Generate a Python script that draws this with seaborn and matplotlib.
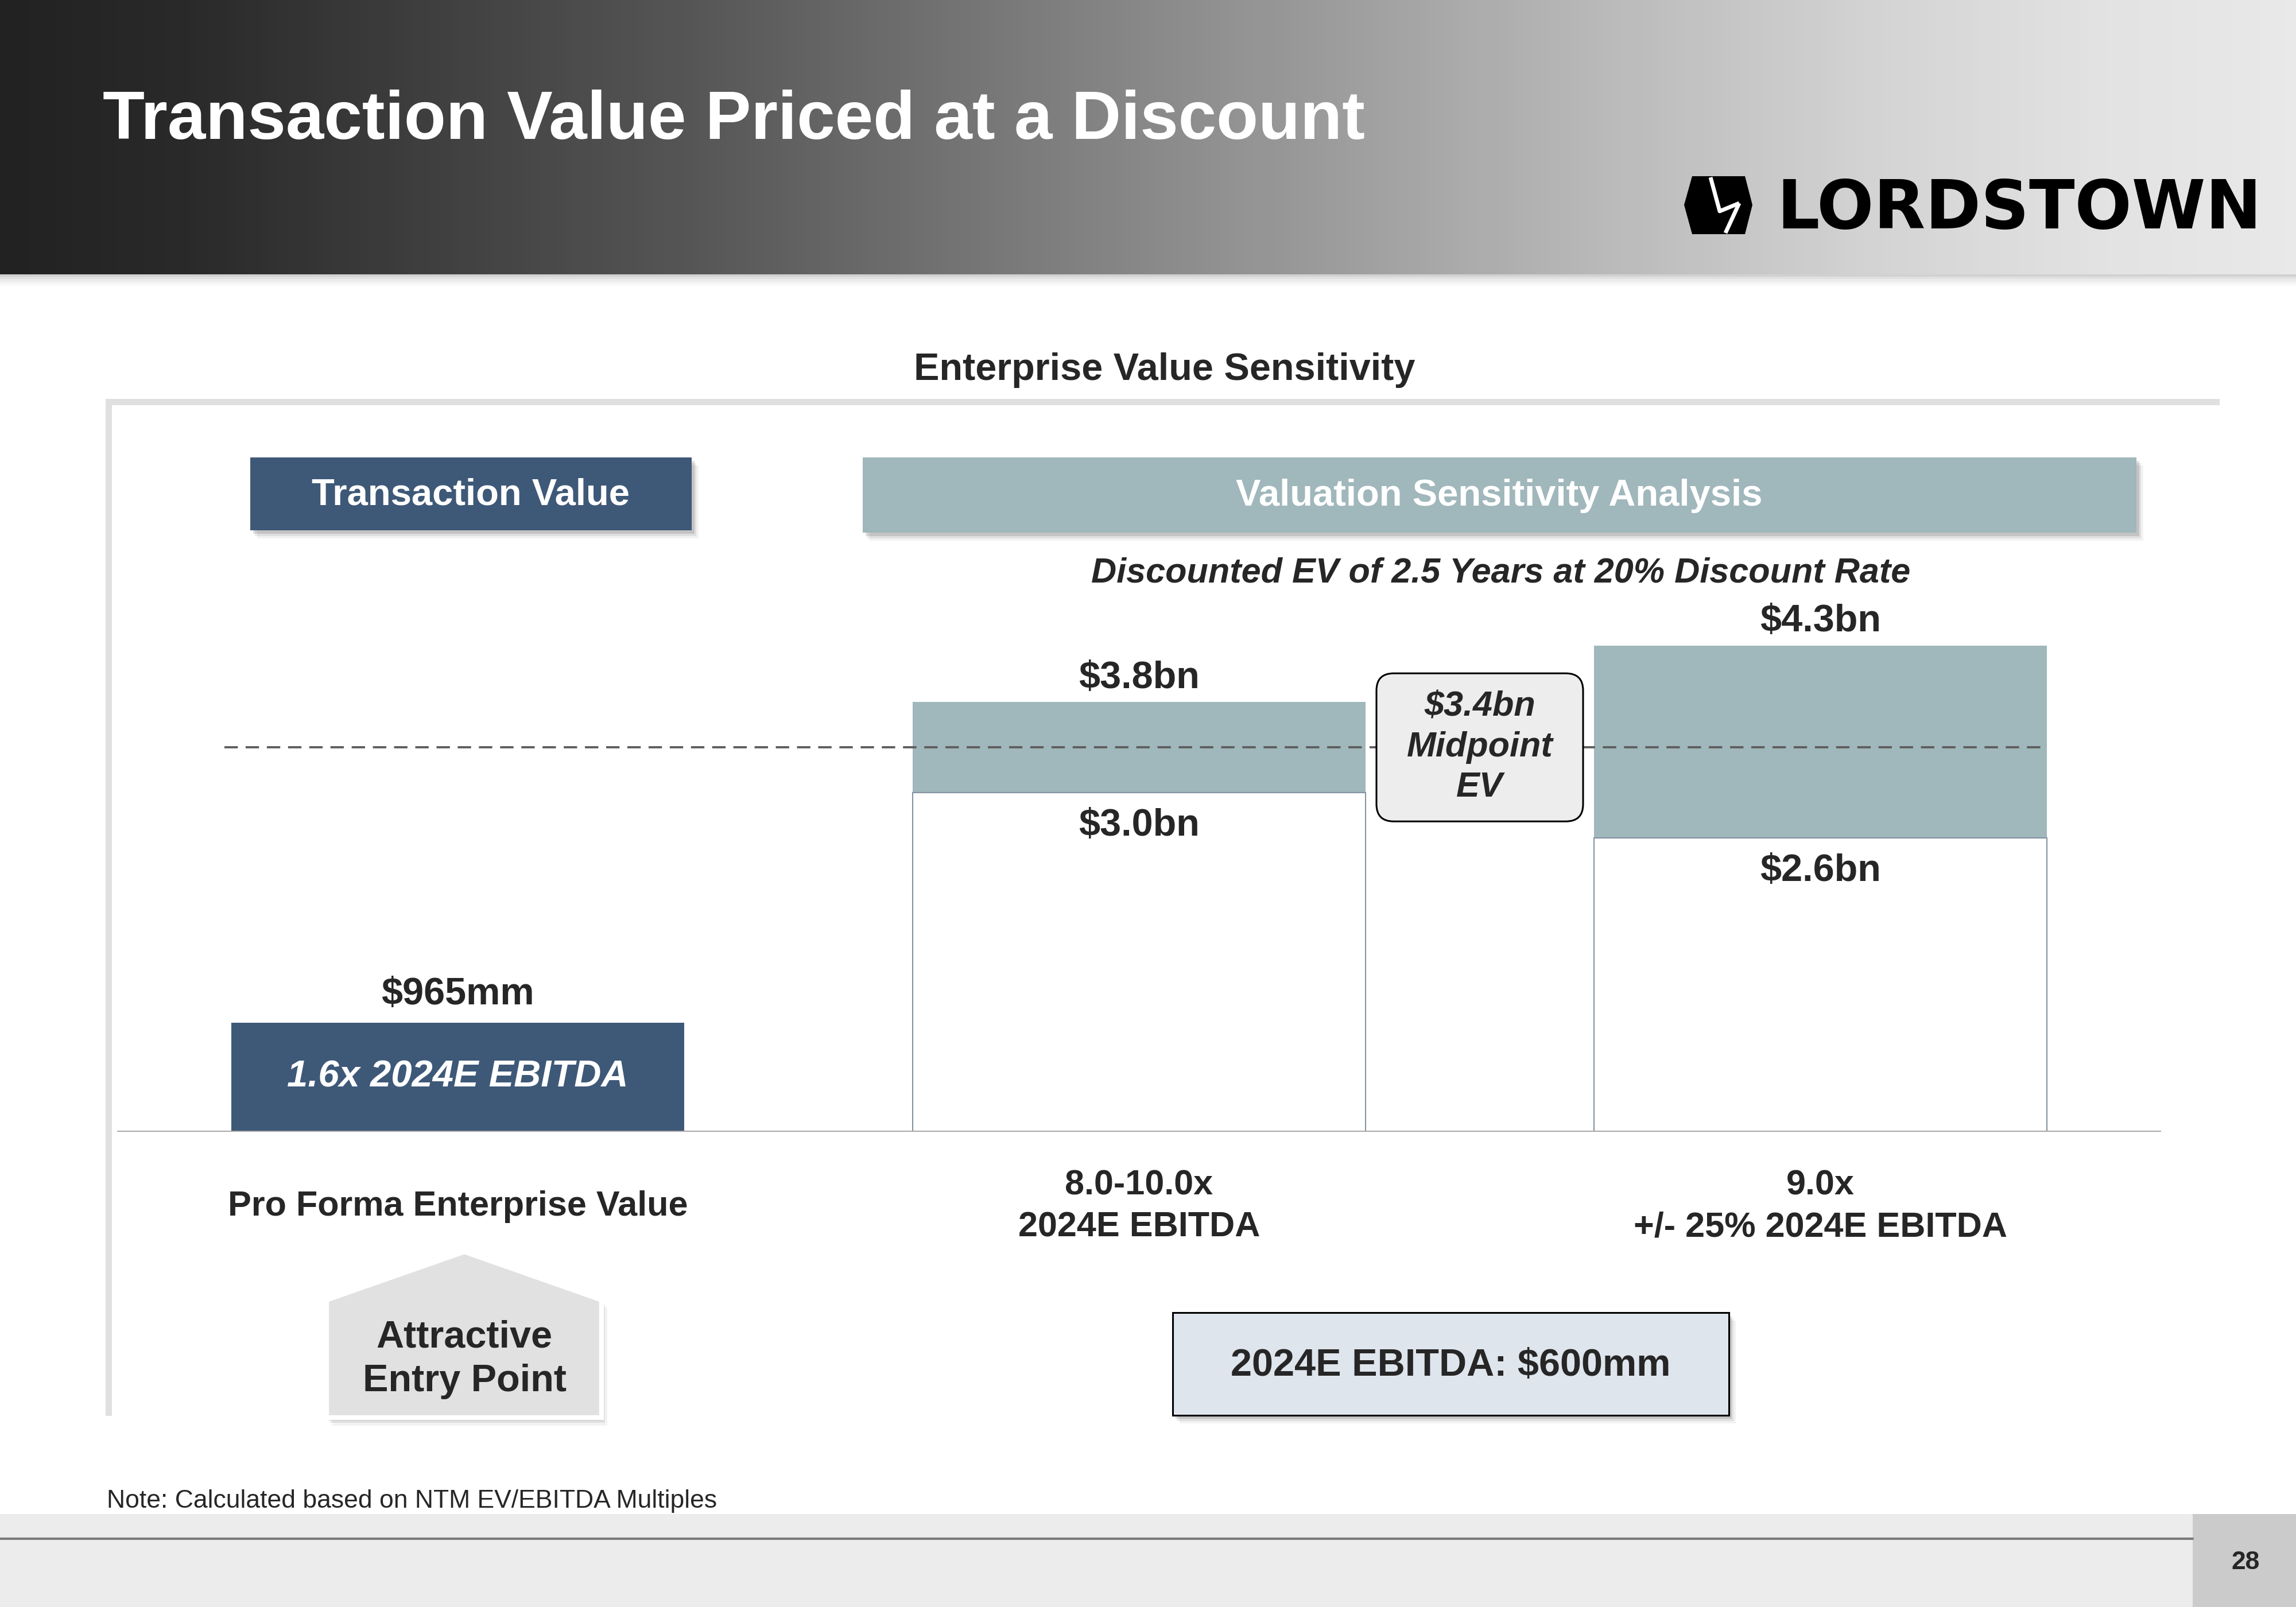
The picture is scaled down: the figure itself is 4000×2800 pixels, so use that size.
import numpy as np
import pandas as pd
import seaborn as sns
import matplotlib.pyplot as plt
from matplotlib.patches import Rectangle, Polygon, FancyBboxPatch
from matplotlib.colors import LinearSegmentedColormap
from matplotlib.transforms import IdentityTransform

# ---- data ----
categories = ["Pro Forma Enterprise Value",
              "8.0-10.0x\n2024E EBITDA",
              "9.0x\n+/- 25% 2024E EBITDA"]
low_ev = [0.965, 3.0, 2.6]      # $bn
high_ev = [0.965, 3.8, 4.3]     # $bn
midpoint_ev = 3.4               # $bn
ebitda_2024 = 0.6               # $bn

NAVY = "#3e5878"
TEAL = "#a0b7bb"
top_colors = [NAVY, TEAL, TEAL]
bottom_colors = [NAVY, "white", "white"]

sns.set_style("white")
plt.rcParams["font.family"] = ["Liberation Sans", "DejaVu Sans"]
plt.rcParams["text.parse_math"] = False

W, H = 4000, 2800
fig = plt.figure(figsize=(W / 100, H / 100), dpi=100)

# background layer in pixel coordinates (y down)
bg = fig.add_axes([0, 0, 1, 1])
bg.axis("off")


def shadow_box(x0, y0, x1, y1, fc, ec="none", lw=0):
    for dx, dy, a in [(12, 14, 0.05), (8, 10, 0.08), (5, 6, 0.12)]:
        bg.add_patch(Rectangle((x0 + dx, y0 + dy), x1 - x0, y1 - y0,
                               fc="black", alpha=a, lw=0))
    bg.add_patch(Rectangle((x0, y0), x1 - x0, y1 - y0, fc=fc, ec=ec, lw=lw))


# header band
hdr_cmap = LinearSegmentedColormap.from_list(
    "hdr", [(0, "#222222"), (0.08, "#2a2a2a"), (0.3, "#565656"), (0.5, "#898989"),
            (0.7, "#bababa"), (0.82, "#d4d4d4"), (0.92, "#e3e3e3"), (1, "#e9e9e9")])
bg.imshow(np.linspace(0, 1, 800)[None, :], cmap=hdr_cmap, extent=(0, W, 478, 0),
          aspect="auto", zorder=0)
for i, a in enumerate([0.18, 0.12, 0.08, 0.05, 0.025]):
    bg.add_patch(Rectangle((0, 478 + i * 4), W, 4, fc="black", alpha=a, lw=0))
bg.text(179, 242, "Transaction Value Priced at a Discount", color="white",
        fontsize=86, fontweight="bold", va="baseline", ha="left")

# logo
bg.add_patch(Polygon([(2948, 307), (3040, 307), (3053, 357), (3040, 408),
                      (2948, 408), (2934, 357)], closed=True, fc="black", lw=0))
bg.plot([2980, 2996, 3030], [309, 368, 354], color="white", lw=5, solid_capstyle="butt")
bg.plot([3030, 3006], [354, 406], color="white", lw=5, solid_capstyle="butt")
bg.text(3518, 398, "LORDSTOWN", family="DejaVu Sans", fontweight="bold",
        fontsize=84, color="black", ha="center", va="baseline")

# chart frame and headers
bg.text(2029, 645, "Enterprise Value Sensitivity", fontsize=48, fontweight="bold",
        ha="center", va="center")
bg.add_patch(Rectangle((184, 695), 3867 - 184, 11, fc="#e0e0e0", lw=0))
bg.add_patch(Rectangle((184, 695), 11, 2467 - 695, fc="#e0e0e0", lw=0))

shadow_box(436, 797, 1205, 924, NAVY)
bg.text(820, 863, "Transaction Value", color="white", fontsize=47,
        fontweight="bold", ha="center", va="center")
shadow_box(1503, 797, 3722, 928, TEAL)
bg.text(2612, 864, "Valuation Sensitivity Analysis", color="white", fontsize=47,
        fontweight="bold", ha="center", va="center")
bg.text(2615, 999, "Discounted EV of 2.5 Years at 20% Discount Rate", fontsize=44,
        fontweight="bold", style="italic", ha="center", va="center")

# house shape
house = [(569, 2265), (809, 2181), (1048, 2265), (1048, 2470), (569, 2470)]
for dx, dy, a in [(10, 14, 0.05), (6, 9, 0.08), (3, 5, 0.12)]:
    bg.add_patch(Polygon([(x + dx, y + dy) for x, y in house], fc="black", alpha=a, lw=0))
bg.add_patch(Polygon(house, fc="#e1e1e1", ec="white", lw=6))
bg.text(809, 2369, "Attractive\nEntry Point", fontsize=48, fontweight="bold",
        ha="center", va="center", linespacing=1.3)

# EBITDA box
shadow_box(2043, 2287, 3012, 2466, "#dfe5ec", ec="black", lw=2.2)
bg.text(2527, 2380, f"2024E EBITDA: ${ebitda_2024 * 1000:.0f}mm", fontsize=48,
        fontweight="bold", ha="center", va="center")

# note and footer
bg.text(186, 2615, "Note: Calculated based on NTM EV/EBITDA Multiples", fontsize=32,
        ha="left", va="center")
bg.add_patch(Rectangle((0, 2638), 3820, H - 2638, fc="#ececec", lw=0))
bg.add_patch(Rectangle((3820, 2638), W - 3820, H - 2638, fc="#cbcbcb", lw=0))
bg.plot([0, 3820], [2681, 2681], color="#7a7a7a", lw=3)
bg.text(3912, 2722, "28", fontsize=32, fontweight="bold", ha="center", va="center")

bg.set_xlim(0, W)
bg.set_ylim(H, 0)

# ---- bar chart ----
px_per_bn = 197
ymax = 4.8
ax = fig.add_axes([204 / W, (H - 1972) / H, (3765 - 204) / W, ymax * px_per_bn / H])
ax.set_zorder(1)
ax.patch.set_alpha(0)

df = pd.DataFrame({"category": categories, "low": low_ev, "high": high_ev})
bar_w = 0.665
sns.barplot(data=df, x="category", y="high", hue="category", palette=top_colors,
            saturation=1, width=bar_w, errorbar=None, legend=False, linewidth=0, ax=ax)
sns.barplot(data=df, x="category", y="low", hue="category", palette=bottom_colors,
            saturation=1, width=bar_w, errorbar=None, legend=False, linewidth=0, ax=ax)
n = len(categories)
for p, c in zip(ax.patches[n:], bottom_colors):
    if c == "white":
        p.set_edgecolor("#8593a2")
        p.set_linewidth(1.5)

ax.set_xlim(-0.5, n - 0.5)
ax.set_ylim(0, ymax)
sns.despine(ax=ax, left=True, bottom=True)
ax.set_yticks([])
ax.set_xlabel("")
ax.set_ylabel("")
ax.set_xticks(range(n))
ax.set_xticklabels(categories, fontsize=44, fontweight="bold", va="center",
                   linespacing=1.35)
ax.tick_params(axis="x", length=0, pad=94)
ax.axhline(0, color="#a6a6a6", lw=3.5, zorder=4)

# midpoint dashed line across the bars
ax.hlines(midpoint_ev, -bar_w / 2 - 0.01, n - 1 + bar_w / 2, colors="#5f5f5f",
          linestyles=(0, (6, 3.5)), lw=2.8, zorder=3)

for i, (lo, hi) in enumerate(zip(low_ev, high_ev)):
    if lo == hi:
        ax.annotate(f"${hi * 1000:.0f}mm", xy=(i, hi), xytext=(0, 35),
                    textcoords="offset points", ha="center", va="center",
                    fontsize=48, fontweight="bold")
        ax.text(i, lo / 2, f"{lo / ebitda_2024:.1f}x 2024E EBITDA", color="white",
                fontsize=47, fontweight="bold", style="italic", ha="center", va="center")
    else:
        ax.annotate(f"${hi:.1f}bn", xy=(i, hi), xytext=(0, 30),
                    textcoords="offset points", ha="center", va="center",
                    fontsize=48, fontweight="bold")
        ax.annotate(f"${lo:.1f}bn", xy=(i, lo), xytext=(0, -42),
                    textcoords="offset points", ha="center", va="center",
                    fontsize=48, fontweight="bold")

# midpoint callout box, between the two sensitivity bars
cx, cy = ax.transData.transform((1.5, midpoint_ev))
ax.add_patch(FancyBboxPatch((cx - 180, cy - 129), 360, 258,
                            boxstyle="round,pad=0,rounding_size=30",
                            transform=IdentityTransform(), fc="#ededed", ec="black",
                            lw=2.2, zorder=5, clip_on=False))
ax.text(1.5, midpoint_ev, f"${midpoint_ev:.1f}bn\nMidpoint\nEV", fontsize=44,
        fontweight="bold", style="italic", ha="center", va="center",
        linespacing=1.3, zorder=6)

fig.savefig("out.png", dpi=100, facecolor="white")
